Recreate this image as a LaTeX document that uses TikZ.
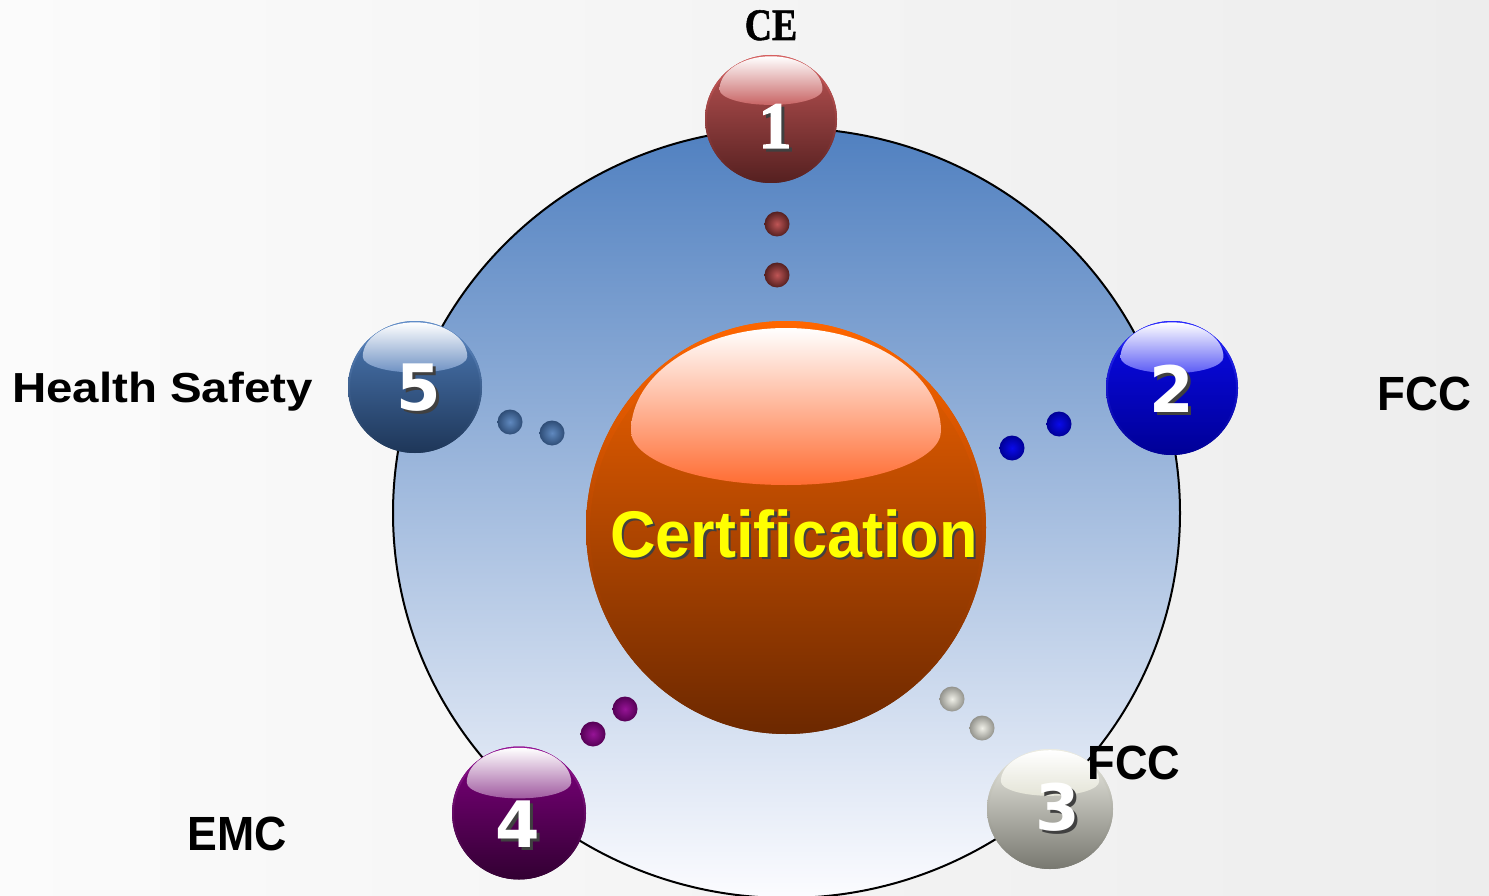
\documentclass[tikz,border=0pt]{standalone}
\usepackage{fontspec}
\newfontfamily\lsans{Liberation Sans}
\newfontfamily\dsans{DejaVu Sans}
\newfontfamily\lserif{Liberation Serif}
\newfontfamily\heavyserif{Liberation Serif Bold}[FakeBold=2.2]
\newfontfamily\ceserif{Liberation Serif Bold}[FakeBold=1.2]
\definecolor{bgA}{RGB}{251,251,251}
\definecolor{bgB}{RGB}{237,237,237}
\definecolor{ringTop}{RGB}{80,128,192}
\definecolor{ringMid}{RGB}{172,188,220}
\definecolor{ringBot}{RGB}{252,252,255}
\definecolor{orRim}{RGB}{255,102,0}
\definecolor{orTop}{RGB}{245,100,0}
\definecolor{orMid}{RGB}{210,86,0}
\definecolor{orBot}{RGB}{108,40,0}
\definecolor{orHl}{RGB}{255,108,50}
\definecolor{rTop}{RGB}{190,85,85}\definecolor{rMid}{RGB}{160,66,66}\definecolor{rBot}{RGB}{85,32,32}\definecolor{rHl}{RGB}{200,100,100}\definecolor{rRim}{RGB}{215,95,95}
\definecolor{bTop}{RGB}{10,10,235}\definecolor{bMid}{RGB}{0,0,200}\definecolor{bBot}{RGB}{0,0,150}\definecolor{bHl}{RGB}{90,90,245}\definecolor{bRim}{RGB}{40,40,255}
\definecolor{gTop}{RGB}{240,240,232}\definecolor{gMid}{RGB}{195,195,185}\definecolor{gBot}{RGB}{120,120,112}\definecolor{gHl}{RGB}{228,228,215}\definecolor{gRim}{RGB}{235,235,225}
\definecolor{pTop}{RGB}{128,0,128}\definecolor{pMid}{RGB}{100,0,100}\definecolor{pBot}{RGB}{50,0,50}\definecolor{pHl}{RGB}{160,90,160}\definecolor{pRim}{RGB}{150,20,150}
\definecolor{sTop}{RGB}{78,124,184}\definecolor{sMid}{RGB}{58,96,148}\definecolor{sBot}{RGB}{30,54,88}\definecolor{sHl}{RGB}{110,145,195}\definecolor{sRim}{RGB}{95,140,200}
\definecolor{certY}{RGB}{255,255,0}
\newcommand\glossball[9]{%
  \shade[top color=#5, middle color=#6, bottom color=#7] (#1,#2) ellipse[x radius=#3, y radius=#4];
  \shade[top color=#9, bottom color=#7, even odd rule] (#1,#2) ellipse[x radius=#3, y radius=#4] (#1,#2) ellipse[x radius=#3-2, y radius=#4-2];
  \pgfmathsetmacro\hx{0.78*#3}\pgfmathsetmacro\hyu{0.52*#4}\pgfmathsetmacro\hyl{0.24*#4}\pgfmathsetmacro\hm{#2-0.46*#4}%
  \shade[top color=white, bottom color=#8] (#1-\hx,\hm) arc[start angle=180,end angle=360,x radius=\hx,y radius=\hyu] arc[start angle=0,end angle=180,x radius=\hx,y radius=\hyl] -- cycle;
}
\newcommand\smalldot[4]{%
  \shade[inner color=#3, outer color=#4] (#1,#2) circle[radius=12.5];
}
\newcommand\shtext[3]{\makebox[0pt][l]{\hspace{#3}\raisebox{-#3}{\textcolor{black!75}{#2}}}\textcolor{#1}{#2}}
\tikzset{
  digit/.style={font=\dsans\bfseries\fontsize{64}{70}\selectfont, anchor=base, inner sep=0pt},
  lab/.style={text=black, font=\lsans\bfseries\fontsize{48}{52}\selectfont, anchor=base, inner sep=0pt}
}
\begin{document}
\begin{tikzpicture}[x=1pt,y=-1pt]
\useasboundingbox (0,0) rectangle (1489,896);
\shade[left color=bgA, right color=bgB] (0,0) rectangle (1489,896);
% big ring
\shade[top color=ringTop, middle color=ringMid, bottom color=ringBot] (786.5,513) ellipse[x radius=393.5, y radius=385];
\draw[black, line width=2pt] (786.5,513) ellipse[x radius=393.5, y radius=385];
% centre sphere
\shade[top color=orTop, middle color=orMid, bottom color=orBot] (786,527.5) ellipse[x radius=200, y radius=206.5];
\shade[top color=orRim, middle color=orRim!85!orMid, bottom color=orBot, even odd rule] (786,527.5) ellipse[x radius=200, y radius=206.5] (786,530) ellipse[x radius=196, y radius=200];
\shade[top color=white, bottom color=orHl] (631,431) arc[start angle=180,end angle=360,x radius=155,y radius=103] arc[start angle=0,end angle=180,x radius=155,y radius=54] -- cycle;
\node[font=\lsans\bfseries\fontsize{66}{70}\selectfont, anchor=base, inner sep=0pt, xscale=0.955] (cert) at (794,557) {\shtext{certY}{Certification}{2.5pt}};
% dots
\smalldot{777}{224}{rTop}{rBot}
\smalldot{777}{275}{rTop}{rBot}
\smalldot{1059}{424}{bTop}{bBot}
\smalldot{1012}{448}{bTop}{bBot}
\smalldot{952}{699}{gTop}{gBot!80!white}
\smalldot{982}{728}{gTop}{gBot!80!white}
\smalldot{625}{709}{pRim}{pMid!85!black}
\smalldot{593}{734}{pRim}{pMid!85!black}
\smalldot{510}{422}{sTop!90!white}{sMid!80!black}
\smalldot{552}{433}{sTop!90!white}{sMid!80!black}
% balls
\glossball{771}{119}{66}{64}{rTop}{rMid}{rBot}{rHl}{rRim}
\glossball{1172}{388}{66}{67}{bTop}{bMid}{bBot}{bHl}{bRim}
\glossball{1050}{809}{63}{60}{gTop}{gMid}{gBot}{gHl}{gRim}
\glossball{519}{813}{67}{66.5}{pTop}{pMid}{pBot}{pHl}{pRim}
\glossball{415}{387}{67}{66}{sTop}{sMid}{sBot}{sHl}{sRim}
% digits
\node[font=\heavyserif\fontsize{66}{72}\selectfont, anchor=base, inner sep=0pt] (n1) at (775,148) {\shtext{white}{1}{3pt}};
\node[digit] (n2) at (1172,412) {\shtext{white}{2}{3pt}};
\node[digit] (n3) at (1058,830) {\shtext{white}{3}{3pt}};
\node[digit] (n4) at (518,847) {\shtext{white}{4}{3pt}};
\node[digit] (n5) at (419,410) {\shtext{white}{5}{3pt}};
% labels
\node[text=black, font=\ceserif\fontsize{45}{50}\selectfont, anchor=base, inner sep=0pt, xscale=0.84] (ce) at (771,40) {CE};
\node[lab, xscale=0.95] (fcc1) at (1424.5,410) {FCC};
\node[lab, xscale=0.94] (fcc2) at (1134,779) {FCC};
\node[lab, xscale=0.93] (emc) at (237.5,850) {EMC};
\node[lab, font=\lsans\bfseries\fontsize{42}{46}\selectfont, xscale=1.13] (hs) at (162.5,402) {Health Safety};
\end{tikzpicture}
\end{document}
